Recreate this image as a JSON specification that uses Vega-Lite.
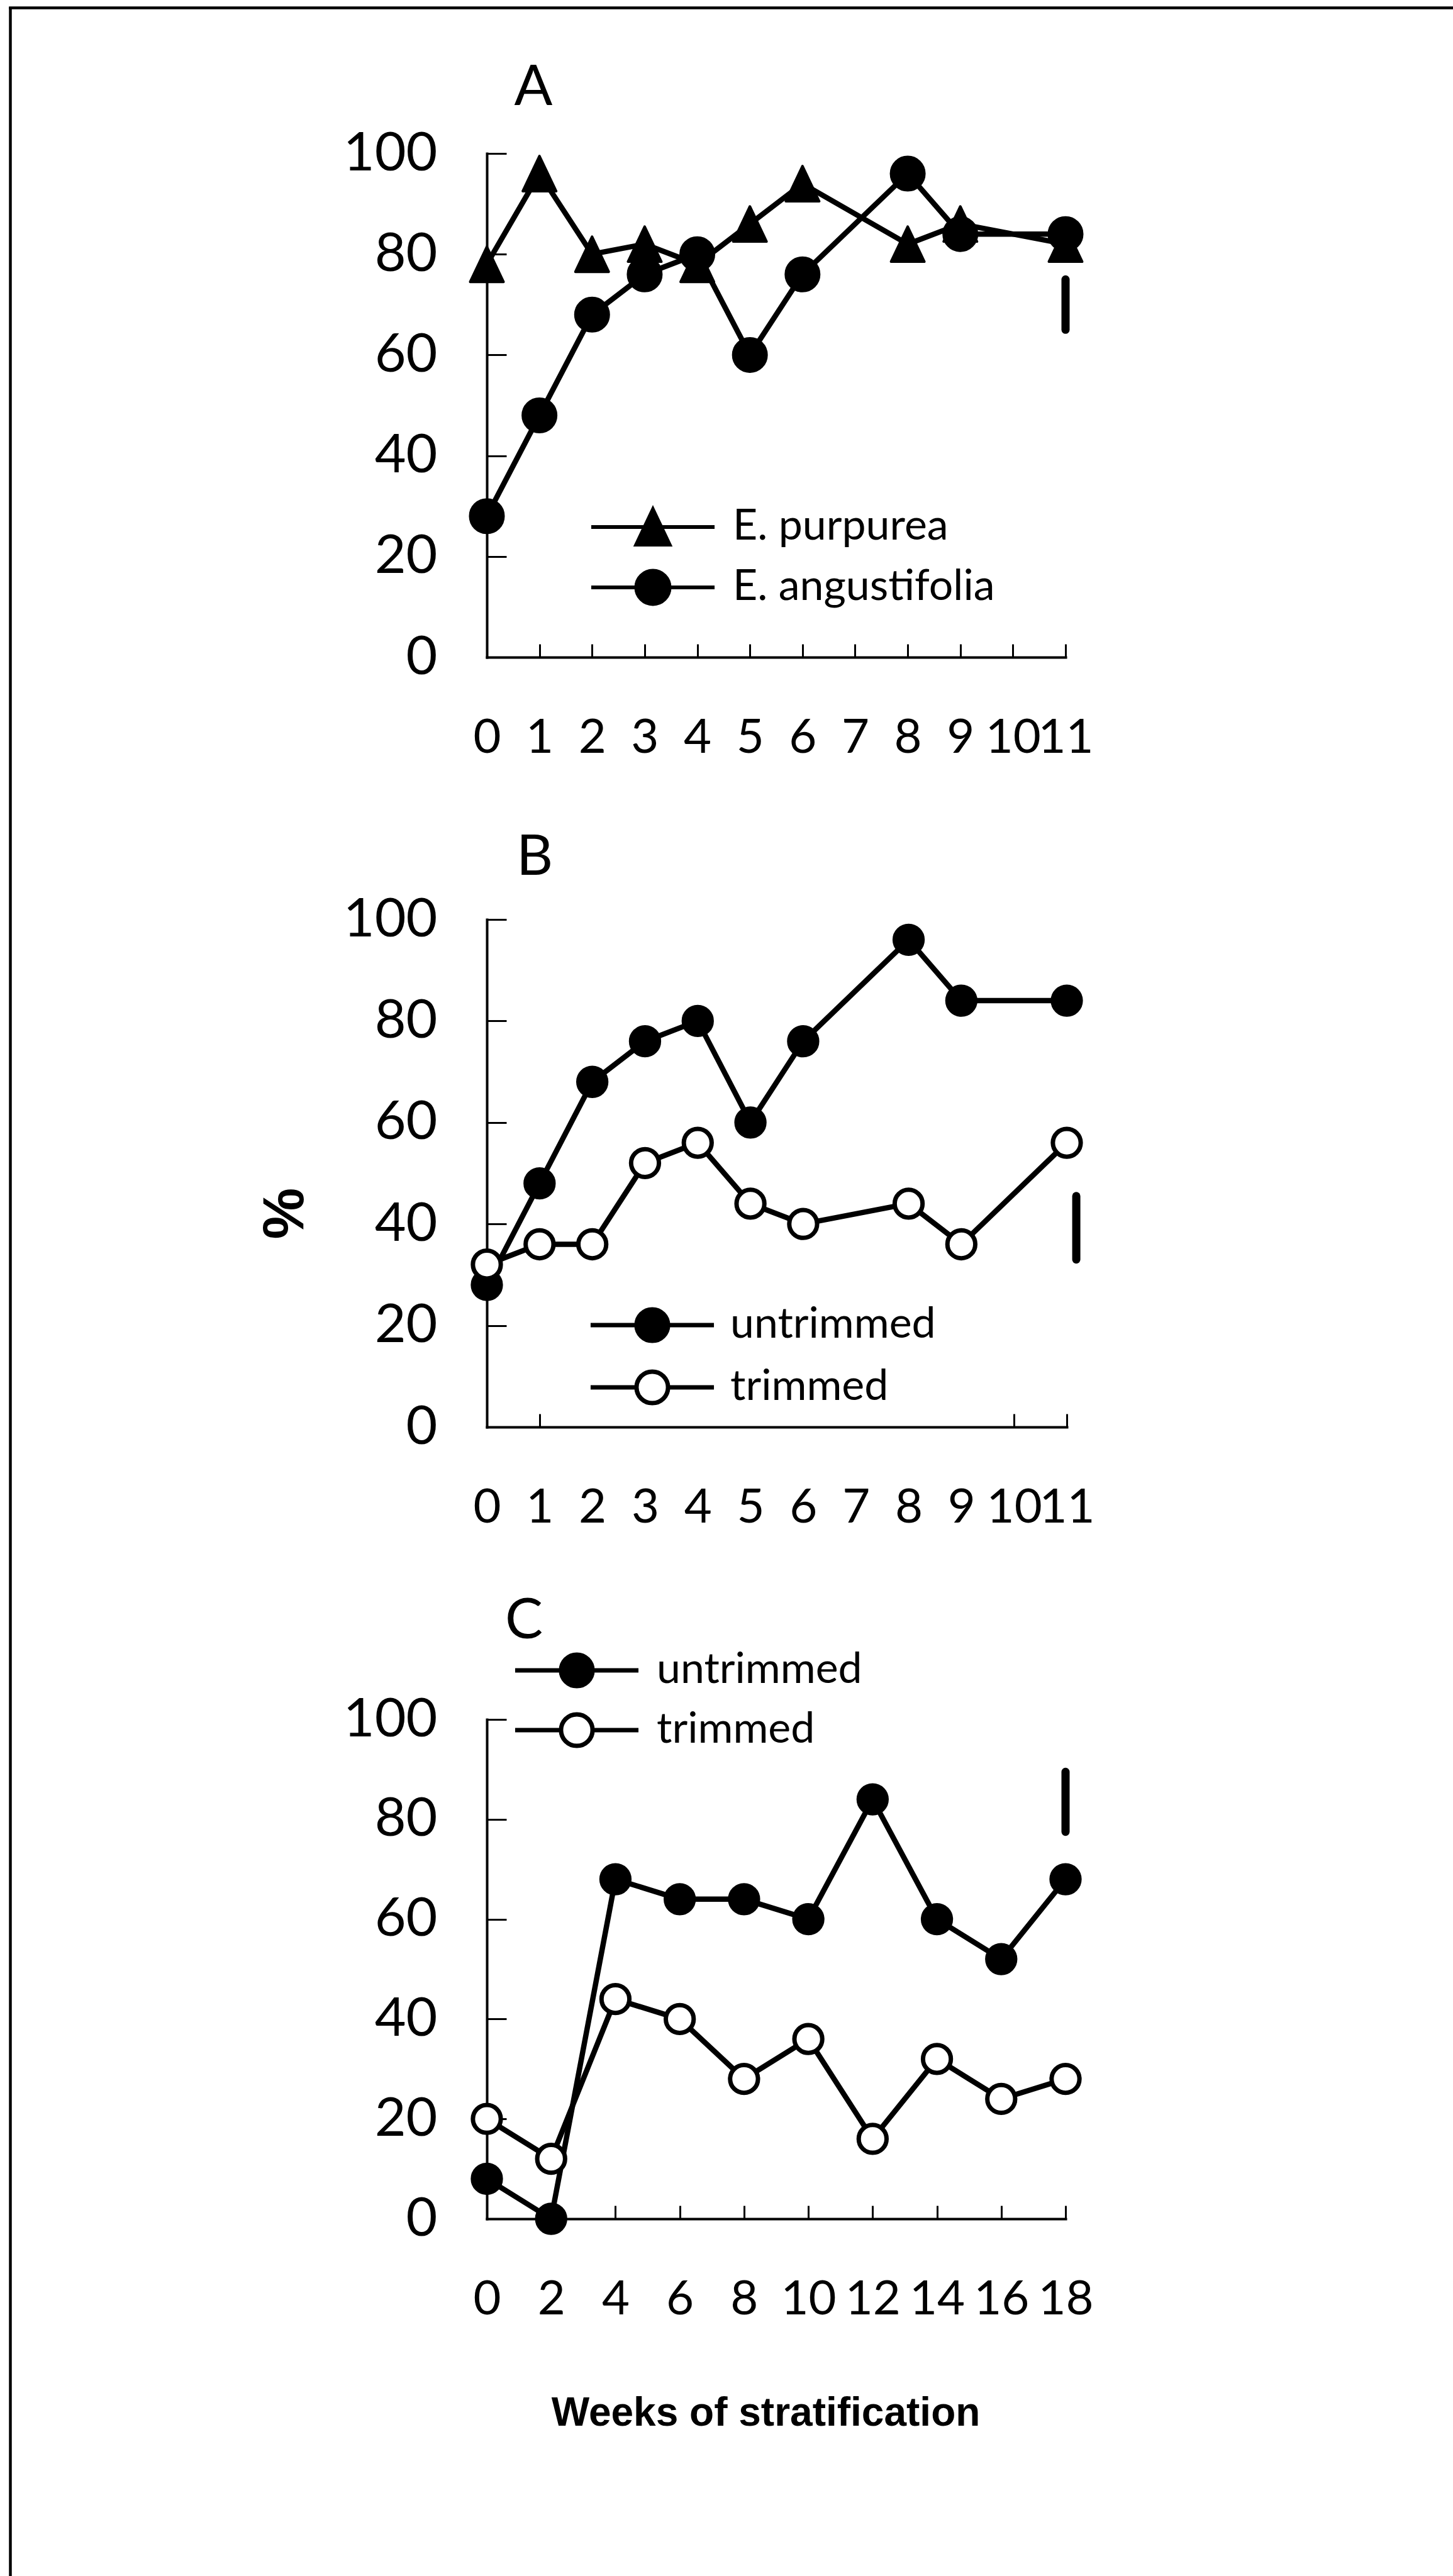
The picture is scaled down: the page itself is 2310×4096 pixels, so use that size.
{
  "$schema": "https://vega.github.io/schema/vega-lite/v6.json",
  "padding": {"left": 14, "top": 10, "right": 0, "bottom": 0},
  "background": "white",
  "datasets": {
    "A": [
      {"week": 0, "pct": 78, "species": "E. purpurea"},
      {"week": 1, "pct": 96, "species": "E. purpurea"},
      {"week": 2, "pct": 80, "species": "E. purpurea"},
      {"week": 3, "pct": 82, "species": "E. purpurea"},
      {"week": 4, "pct": 78, "species": "E. purpurea"},
      {"week": 5, "pct": 86, "species": "E. purpurea"},
      {"week": 6, "pct": 94, "species": "E. purpurea"},
      {"week": 8, "pct": 82, "species": "E. purpurea"},
      {"week": 9, "pct": 86, "species": "E. purpurea"},
      {"week": 11, "pct": 82, "species": "E. purpurea"},
      {"week": 0, "pct": 28, "species": "E. angustifolia"},
      {"week": 1, "pct": 48, "species": "E. angustifolia"},
      {"week": 2, "pct": 68, "species": "E. angustifolia"},
      {"week": 3, "pct": 76, "species": "E. angustifolia"},
      {"week": 4, "pct": 80, "species": "E. angustifolia"},
      {"week": 5, "pct": 60, "species": "E. angustifolia"},
      {"week": 6, "pct": 76, "species": "E. angustifolia"},
      {"week": 8, "pct": 96, "species": "E. angustifolia"},
      {"week": 9, "pct": 84, "species": "E. angustifolia"},
      {"week": 11, "pct": 84, "species": "E. angustifolia"}
    ],
    "legA1": [{"entry": "E. purpurea"}],
    "legA2": [{"entry2": "E. angustifolia"}],
    "B": [
      {"week": 0, "pct": 28, "treatment": "untrimmed"},
      {"week": 1, "pct": 48, "treatment": "untrimmed"},
      {"week": 2, "pct": 68, "treatment": "untrimmed"},
      {"week": 3, "pct": 76, "treatment": "untrimmed"},
      {"week": 4, "pct": 80, "treatment": "untrimmed"},
      {"week": 5, "pct": 60, "treatment": "untrimmed"},
      {"week": 6, "pct": 76, "treatment": "untrimmed"},
      {"week": 8, "pct": 96, "treatment": "untrimmed"},
      {"week": 9, "pct": 84, "treatment": "untrimmed"},
      {"week": 11, "pct": 84, "treatment": "untrimmed"},
      {"week": 0, "pct": 32, "treatment": "trimmed"},
      {"week": 1, "pct": 36, "treatment": "trimmed"},
      {"week": 2, "pct": 36, "treatment": "trimmed"},
      {"week": 3, "pct": 52, "treatment": "trimmed"},
      {"week": 4, "pct": 56, "treatment": "trimmed"},
      {"week": 5, "pct": 44, "treatment": "trimmed"},
      {"week": 6, "pct": 40, "treatment": "trimmed"},
      {"week": 8, "pct": 44, "treatment": "trimmed"},
      {"week": 9, "pct": 36, "treatment": "trimmed"},
      {"week": 11, "pct": 56, "treatment": "trimmed"}
    ],
    "C": [
      {"week": 0, "pct": 8, "treatment": "untrimmed"},
      {"week": 2, "pct": 0, "treatment": "untrimmed"},
      {"week": 4, "pct": 68, "treatment": "untrimmed"},
      {"week": 6, "pct": 64, "treatment": "untrimmed"},
      {"week": 8, "pct": 64, "treatment": "untrimmed"},
      {"week": 10, "pct": 60, "treatment": "untrimmed"},
      {"week": 12, "pct": 84, "treatment": "untrimmed"},
      {"week": 14, "pct": 60, "treatment": "untrimmed"},
      {"week": 16, "pct": 52, "treatment": "untrimmed"},
      {"week": 18, "pct": 68, "treatment": "untrimmed"},
      {"week": 0, "pct": 20, "treatment": "trimmed"},
      {"week": 2, "pct": 12, "treatment": "trimmed"},
      {"week": 4, "pct": 44, "treatment": "trimmed"},
      {"week": 6, "pct": 40, "treatment": "trimmed"},
      {"week": 8, "pct": 28, "treatment": "trimmed"},
      {"week": 10, "pct": 36, "treatment": "trimmed"},
      {"week": 12, "pct": 16, "treatment": "trimmed"},
      {"week": 14, "pct": 32, "treatment": "trimmed"},
      {"week": 16, "pct": 24, "treatment": "trimmed"},
      {"week": 18, "pct": 28, "treatment": "trimmed"}
    ],
    "errA": [{"week": 11, "pct": 65, "hi": 75}],
    "errB": [{"week": 11.18, "pct": 33, "hi": 45.5}],
    "errC": [{"week": 18, "pct": 77.5, "hi": 89.5}]
  },
  "bounds": "flush",
  "spacing": 0,
  "resolve": {"scale": {"x": "independent", "y": "independent", "shape": "independent", "fill": "independent", "color": "independent"}, "legend": {"shape": "independent", "fill": "independent", "color": "independent"}},
  "vconcat": [
    {"width": 2294, "height": 1, "data": {"values": []}, "mark": "point", "encoding": {}, "view": {"stroke": "black", "strokeWidth": 3.5}},
    {
      "bounds": "flush",
      "spacing": 757,
      "resolve": {"scale": {"x": "independent", "y": "independent", "shape": "independent", "fill": "independent", "color": "independent"}, "legend": {"shape": "independent", "fill": "independent", "color": "independent"}},
      "hconcat": [
        {"width": 1, "height": 4084, "data": {"values": []}, "mark": "point", "encoding": {}, "view": {"stroke": "black", "strokeWidth": 3.5}},
        {
          "bounds": "flush",
          "spacing": 230,
          "resolve": {"scale": {"x": "independent", "y": "independent", "shape": "independent", "fill": "independent", "color": "independent"}, "legend": {"shape": "independent", "fill": "independent", "color": "independent"}},
          "vconcat": [
            {"width": 1, "height": 1, "data": {"values": []}, "mark": "point", "encoding": {}},
            {
              "bounds": "flush",
              "spacing": 417,
              "resolve": {"scale": {"x": "independent", "y": "independent", "shape": "independent", "fill": "independent", "color": "independent"}, "legend": {"shape": "independent", "fill": "independent", "color": "independent"}},
              "vconcat": [
                {
                  "width": 920, "height": 801,
                  "data": {"name": "A"},
                  "title": {"text": "A", "anchor": "start", "align": "center", "dx": 74, "offset": -56, "baseline": "alphabetic", "frame": "group", "fontSize": 90, "font": "Lato", "fontWeight": "normal", "color": "black"},
                  "encoding": {
                    "x": {"field": "week", "type": "quantitative", "scale": {"domain": [0, 11], "nice": false, "zero": false}, "axis": {"title": null, "values": [0,1,2,3,4,5,6,7,8,9,10,11], "format": "d"}},
                    "y": {"field": "pct", "type": "quantitative", "scale": {"domain": [0, 100], "nice": false}, "axis": {"title": null, "values": [0,20,40,60,80,100], "format": "d"}}
                  },
                  "layer": [
                    {"mark": {"type": "line", "stroke": "black", "strokeWidth": 8.5, "strokeJoin": "round"}, "encoding": {"detail": {"field": "species", "type": "nominal"}}},
                    {"mark": {"type": "point", "filled": true, "fill": "black", "stroke": "black", "strokeWidth": 4, "strokeJoin": "round", "opacity": 1, "size": 3249},
                     "encoding": {
                       "shape": {"field": "species", "type": "nominal", "scale": {"domain": ["E. purpurea", "E. angustifolia"], "range": ["M0,-0.98L0.93,0.98L-0.93,0.98Z", "M0.93,0A0.93,0.93,0,1,1,-0.93,0A0.93,0.93,0,1,1,0.93,0Z"]}, "legend": null}
                     }},
                    {"data": {"name": "legA1"}, "mark": {"type": "point", "filled": true, "fill": "black", "opacity": 0, "size": 3249},
                     "encoding": {
                       "x": {"datum": 0}, "y": {"datum": 0},
                       "fill": {"field": "entry", "type": "nominal", "scale": {"domain": ["E. purpurea"], "range": ["black"]},
                         "legend": {"orient": "none", "legendX": 230, "legendY": 560, "title": null, "padding": 0, "labelFontSize": 68, "labelFont": "Lato", "labelColor": "black", "labelLimit": 0, "symbolSize": 3249, "labelOffset": 93, "symbolStrokeWidth": 6, "symbolStrokeColor": "black", "symbolOpacity": 1,
                           "encode": {"symbols": {"update": {"shape": {"value": "M-3.44,0H3.44M0,-0.98L0.93,0.98L-0.93,0.98Z"}, "stroke": {"value": "black"}, "fill": {"value": "black"}, "strokeWidth": {"value": 6}, "opacity": {"value": 1}}}}}}
                     }},
                    {"data": {"name": "legA2"}, "mark": {"type": "point", "filled": true, "opacity": 0, "size": 3249},
                     "encoding": {
                       "x": {"datum": 0}, "y": {"datum": 0},
                       "color": {"field": "entry2", "type": "nominal", "scale": {"domain": ["E. angustifolia"], "range": ["black"]},
                         "legend": {"orient": "none", "legendX": 230, "legendY": 656, "title": null, "padding": 0, "labelFontSize": 68, "labelFont": "Lato", "labelColor": "black", "labelLimit": 0, "symbolSize": 3249, "labelOffset": 93, "symbolStrokeWidth": 6, "symbolStrokeColor": "black", "symbolOpacity": 1,
                           "encode": {"symbols": {"update": {"shape": {"value": "M-3.44,0H3.44M0.93,0A0.93,0.93,0,1,1,-0.93,0A0.93,0.93,0,1,1,0.93,0Z"}, "stroke": {"value": "black"}, "fill": {"value": "black"}, "strokeWidth": {"value": 6}, "opacity": {"value": 1}}}}}}
                     }},
                    {"data": {"name": "errA"}, "mark": {"type": "rule", "stroke": "black", "strokeWidth": 13, "strokeCap": "round"}, "encoding": {"y2": {"field": "hi"}}}
                  ]
                },
                {
                  "bounds": "flush",
                  "spacing": 465,
                  "resolve": {"scale": {"x": "independent", "y": "independent", "shape": "independent", "fill": "independent", "color": "independent"}, "legend": {"shape": "independent", "fill": "independent", "color": "independent"}},
                  "vconcat": [
                    {
                      "width": 922, "height": 807,
                      "data": {"name": "B"},
                      "title": {"text": "B", "anchor": "start", "align": "center", "dx": 76, "offset": -62, "baseline": "alphabetic", "frame": "group", "fontSize": 90, "font": "Lato", "fontWeight": "normal", "color": "black"},
                      "encoding": {
                        "x": {"field": "week", "type": "quantitative", "scale": {"domain": [0, 11], "nice": false, "zero": false}, "axis": {"title": null, "values": [0,1,2,3,4,5,6,7,8,9,10,11], "format": "d", "tickColor": {"condition": {"test": "datum.value === 1 || datum.value >= 10", "value": "black"}, "value": "transparent"}}},
                        "y": {"field": "pct", "type": "quantitative", "scale": {"domain": [0, 100], "nice": false}, "axis": {"title": "%", "values": [0,20,40,60,80,100], "format": "d", "titleFont": "Liberation Sans", "titleFontWeight": "bold", "titleFontSize": 92, "titleColor": "black", "titleAngle": -90, "titleX": -321, "titleY": 467, "titleAlign": "center", "titleBaseline": "middle"}}
                      },
                      "layer": [
                        {"mark": {"type": "line", "stroke": "black", "strokeWidth": 8.5, "strokeJoin": "round"}, "encoding": {"detail": {"field": "treatment", "type": "nominal"}}},
                        {"mark": {"type": "point", "filled": true, "shape": "circle", "stroke": "black", "strokeWidth": 7, "size": 1963, "opacity": 1},
                         "encoding": {
                           "fill": {"field": "treatment", "type": "nominal", "scale": {"domain": ["untrimmed", "trimmed"], "range": ["black", "white"]},
                             "legend": {"orient": "none", "legendX": 229, "legendY": 611, "title": null, "padding": 0, "labelFontSize": 68, "labelFont": "Lato", "labelColor": "black", "labelLimit": 0, "symbolSize": 3249, "labelOffset": 90, "rowPadding": 19, "symbolStrokeWidth": 7, "symbolStrokeColor": "black", "symbolOpacity": 1,
                               "encode": {"symbols": {"update": {"shape": {"value": "M-3.44,0H-0.88M0.88,0H3.44M0.88,0A0.88,0.88,0,1,1,-0.88,0A0.88,0.88,0,1,1,0.88,0Z"}, "stroke": {"value": "black"}, "strokeWidth": {"value": 7}}}}}}
                         }},
                        {"data": {"name": "errB"}, "mark": {"type": "rule", "stroke": "black", "strokeWidth": 13, "strokeCap": "round"}, "encoding": {"y2": {"field": "hi"}}}
                      ]
                    },
                    {
                      "width": 920, "height": 794,
                      "data": {"name": "C"},
                      "title": {"text": "C", "anchor": "start", "align": "center", "dx": 59, "offset": -73, "baseline": "alphabetic", "frame": "group", "fontSize": 90, "font": "Lato", "fontWeight": "normal", "color": "black"},
                      "encoding": {
                        "x": {"field": "week", "type": "quantitative", "scale": {"domain": [0, 18], "nice": false, "zero": false}, "axis": {"title": "Weeks of stratification", "values": [0,2,4,6,8,10,12,14,16,18], "format": "d", "titleFont": "Liberation Sans", "titleFontWeight": "bold", "titleFontSize": 64, "titleColor": "black", "titleX": 443, "titleY": 309, "titleAlign": "center", "titleBaseline": "middle"}},
                        "y": {"field": "pct", "type": "quantitative", "scale": {"domain": [0, 100], "nice": false}, "axis": {"title": null, "values": [0,20,40,60,80,100], "format": "d"}}
                      },
                      "layer": [
                        {"mark": {"type": "line", "stroke": "black", "strokeWidth": 8.5, "strokeJoin": "round"}, "encoding": {"detail": {"field": "treatment", "type": "nominal"}}},
                        {"mark": {"type": "point", "filled": true, "shape": "circle", "stroke": "black", "strokeWidth": 7, "size": 1963, "opacity": 1},
                         "encoding": {
                           "fill": {"field": "treatment", "type": "nominal", "scale": {"domain": ["untrimmed", "trimmed"], "range": ["black", "white"]},
                             "legend": {"orient": "none", "legendX": 109, "legendY": -112, "title": null, "padding": 0, "labelFontSize": 68, "labelFont": "Lato", "labelColor": "black", "labelLimit": 0, "symbolSize": 3249, "labelOffset": 93, "rowPadding": 15, "symbolStrokeWidth": 7, "symbolStrokeColor": "black", "symbolOpacity": 1,
                               "encode": {"symbols": {"update": {"shape": {"value": "M-3.44,0H-0.88M0.88,0H3.44M0.88,0A0.88,0.88,0,1,1,-0.88,0A0.88,0.88,0,1,1,0.88,0Z"}, "stroke": {"value": "black"}, "strokeWidth": {"value": 7}}}}}}
                         }},
                        {"data": {"name": "errC"}, "mark": {"type": "rule", "stroke": "black", "strokeWidth": 13, "strokeCap": "round"}, "encoding": {"y2": {"field": "hi"}}}
                      ]
                    }
                  ]
                }
              ]
            }
          ]
        }
      ]
    }
  ],
  "config": {
    "view": {"stroke": null},
    "font": "Lato",
    "axis": {"domainColor": "black", "domainWidth": 4, "domainCap": "square", "tickColor": "black", "tickWidth": 3, "labelColor": "black", "labelFont": "Lato", "grid": false, "labelOverlap": false, "labelFlush": false, "labelBound": false},
    "axisX": {"tickSize": -21, "labelPadding": 149, "labelFontSize": 76, "labelBaseline": "middle", "labelAlign": "center"},
    "axisY": {"tickSize": -31, "labelPadding": 110, "labelFontSize": 86, "labelBaseline": "middle", "labelAlign": "right"}
  }
}
